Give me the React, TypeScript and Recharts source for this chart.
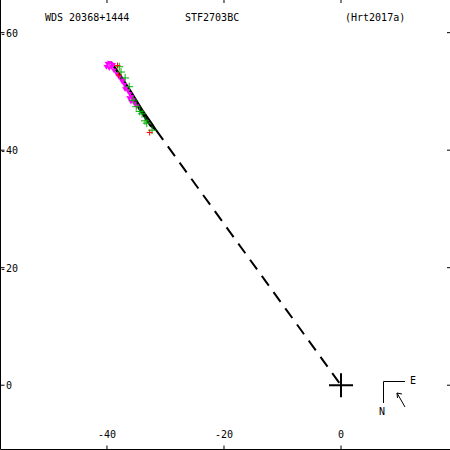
import React from "react";
import { ComposedChart, Scatter, XAxis, YAxis } from "recharts";

// position of the companion relative to the primary (arcsec-ish units as in the plot)
const magentaPts = [
  { x: -39.9, y: -54.7 }, { x: -39.5, y: -54.9 }, { x: -39.2, y: -54.2 }, { x: -39.6, y: -54.0 },
  { x: -40.1, y: -54.2 }, { x: -38.9, y: -54.6 },
  { x: -38.8, y: -53.6 }, { x: -38.3, y: -53.0 }, { x: -37.9, y: -52.4 }, { x: -37.4, y: -51.7 },
  { x: -37.0, y: -51.2 }, { x: -36.7, y: -50.6 }, { x: -36.4, y: -50.1 }, { x: -36.9, y: -50.4 },
  { x: -36.1, y: -49.6 }, { x: -35.8, y: -49.1 }, { x: -35.5, y: -48.6 }, { x: -35.9, y: -48.3 },
  { x: -35.3, y: -48.0 }, { x: -34.9, y: -47.5 }, { x: -36.2, y: -48.9 }, { x: -37.2, y: -51.9 },
];
const greenPts = [
  { x: -37.9, y: -54.2 }, { x: -37.6, y: -53.3 }, { x: -36.9, y: -52.3 }, { x: -36.2, y: -50.8 },
  { x: -35.5, y: -48.5 }, { x: -35.0, y: -47.4 }, { x: -34.4, y: -46.6 }, { x: -34.0, y: -46.2 },
  { x: -33.5, y: -45.0 }, { x: -33.2, y: -44.6 }, { x: -32.3, y: -43.4 },
];
const redPts = [
  { x: -38.2, y: -54.4 }, { x: -38.0, y: -52.8 }, { x: -32.7, y: -43.0 },
];
const orbit = [
  { x: -39.3, y: -55.0 }, { x: -37.8, y: -52.9 }, { x: -35.9, y: -50.0 }, { x: -33.8, y: -46.6 },
  { x: -32.2, y: -44.3 }, { x: -31.6, y: -43.4 }, { x: -32.6, y: -44.2 }, { x: -34.6, y: -47.2 },
  { x: -36.9, y: -51.0 }, { x: -38.6, y: -53.8 }, { x: -39.3, y: -55.0 },
];
const nodeLine = [{ x: -31.6, y: -43.4 }, { x: 0, y: 0 }];
const primary = [{ x: 0, y: 0 }];

const xTicks = [-40, -20, 0];
const yTicks = [-60, -40, -20, 0];
const titleLeft = "WDS 20368+1444";
const titleMid = "STF2703BC";
const titleRight = "(Hrt2017a)";

const FONT = "'DejaVu Sans Mono', monospace";
const X_DOMAIN = [-58.2, 18.8];
const Y_DOMAIN = [-65.73, 10.94];

const Plus = (size: number, color: string, width: number) => (p: any) => (
  <g>
    <line x1={p.cx - size} y1={p.cy} x2={p.cx + size} y2={p.cy} stroke={color} strokeWidth={width} />
    <line x1={p.cx} y1={p.cy - size} x2={p.cx} y2={p.cy + size} stroke={color} strokeWidth={width} />
  </g>
);

const Tri = (p: any) => (
  <polygon
    points={`${p.cx - 3},${p.cy - 2} ${p.cx + 2.5},${p.cy - 1.5} ${p.cx},${p.cy + 3}`}
    fill="#ff00ff"
  />
);

const Nothing = () => <g />;

const BottomTick = (p: any) => (
  <text x={p.x} y={438} textAnchor="middle" fontFamily={FONT} fontSize={10} fill="#000">
    {p.payload.value}
  </text>
);

const LeftTick = (p: any) => (
  <text x={p.payload.value < 0 ? 0 : 6} y={p.y + 4} fontFamily={FONT} fontSize={10} fill="#000">
    {p.payload.value}
  </text>
);

export default function App() {
  return (
    <div style={{ position: "absolute", left: 0, top: 0, width: 450, height: 450, background: "#fff" }}>
      <ComposedChart width={450} height={450} margin={{ top: -1, right: -1, bottom: 0.5, left: 0.5 }}>
        <XAxis
          xAxisId="b"
          dataKey="x"
          type="number"
          domain={X_DOMAIN}
          allowDataOverflow
          ticks={xTicks}
          height={1}
          mirror
          tickSize={4}
          tick={BottomTick}
          stroke="#000"
          tickLine={{ stroke: "#000" }}
        />
        <XAxis
          xAxisId="t"
          orientation="top"
          dataKey="x"
          type="number"
          domain={X_DOMAIN}
          allowDataOverflow
          ticks={xTicks}
          height={1}
          mirror
          tickSize={4}
          axisLine={false}
          tick={Nothing}
          tickLine={{ stroke: "#000" }}
        />
        <YAxis
          yAxisId="l"
          dataKey="y"
          type="number"
          domain={Y_DOMAIN}
          reversed
          allowDataOverflow
          ticks={yTicks}
          width={1}
          mirror
          tickSize={4}
          tick={LeftTick}
          stroke="#000"
          tickLine={{ stroke: "#000" }}
        />
        <YAxis
          yAxisId="r"
          orientation="right"
          dataKey="y"
          type="number"
          domain={Y_DOMAIN}
          reversed
          allowDataOverflow
          ticks={yTicks}
          width={1}
          mirror
          tickSize={4}
          axisLine={false}
          tick={Nothing}
          tickLine={{ stroke: "#000" }}
        />
        <Scatter xAxisId="b" yAxisId="l" data={nodeLine} line={{ stroke: "#000", strokeWidth: 2, strokeDasharray: "12 8" }} shape={Nothing} isAnimationActive={false} />
        <Scatter xAxisId="b" yAxisId="l" data={orbit} line={{ stroke: "#000", strokeWidth: 2 }} shape={Nothing} isAnimationActive={false} />
        <Scatter xAxisId="b" yAxisId="l" data={magentaPts} shape={Tri} isAnimationActive={false} />
        <Scatter xAxisId="b" yAxisId="l" data={greenPts} shape={Plus(4, "#00b000", 1)} isAnimationActive={false} />
        <Scatter xAxisId="b" yAxisId="l" data={redPts} shape={Plus(3, "#ff0000", 1)} isAnimationActive={false} />
        <Scatter xAxisId="b" yAxisId="l" data={primary} shape={Plus(12, "#000", 2)} isAnimationActive={false} />
      </ComposedChart>
      <svg width={450} height={450} style={{ position: "absolute", left: 0, top: 0, pointerEvents: "none" }}>
        <g fontFamily={FONT} fontSize={10} fill="#000">
          <text x={45} y={21}>{titleLeft}</text>
          <text x={185} y={21}>{titleMid}</text>
          <text x={345} y={21}>{titleRight}</text>
          <text x={410} y={384}>E</text>
          <text x={379} y={415}>N</text>
        </g>
        <g stroke="#000" strokeWidth={1} fill="none">
          <polyline points="405,381.5 383.5,381.5 383.5,403" />
          <line x1={405} y1={407} x2={397} y2={393} />
          <line x1={397} y1={393} x2={402} y2={394} />
          <line x1={397} y1={393} x2={397.5} y2={398} />
        </g>
      </svg>
    </div>
  );
}
